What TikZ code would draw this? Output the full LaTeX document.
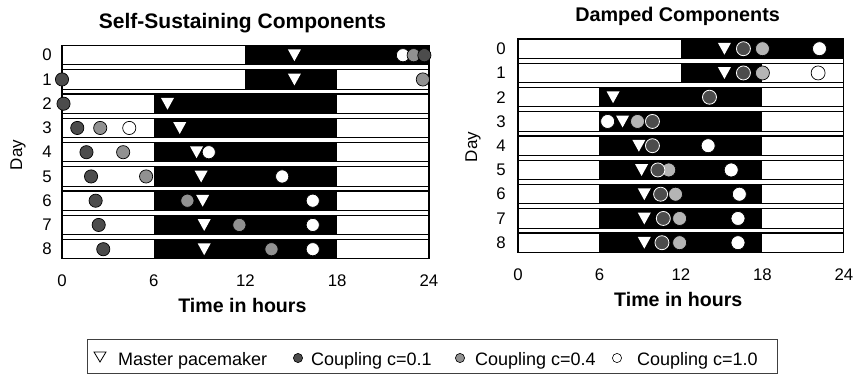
\documentclass[tikz,border=0pt]{standalone}
\usepackage{fontspec}
\setmainfont{Liberation Sans}
\usetikzlibrary{calc}

\tikzset{
  rowline/.style={line width=1.1pt, color=black},
  dkspot/.style={fill=black!70, draw=black, line width=0.7pt},
  dkspotw/.style={fill=black!70, draw=white, line width=0.8pt},
  gyspot/.style={fill=black!43, draw=black, line width=0.7pt},
  ltspot/.style={fill=black!29, draw=black, line width=0.7pt},
  whspot/.style={fill=white, draw=black, line width=0.7pt},
  ttl/.style={font=\fontsize{19.8}{22}\selectfont\bfseries, anchor=base, inner sep=0pt},
  axlbl/.style={font=\fontsize{19.6}{22}\selectfont\bfseries, anchor=base, inner sep=0pt},
  ticklbl/.style={font=\fontsize{16.8}{18}\selectfont, anchor=base, inner sep=0pt},
  daylbl/.style={font=\fontsize{16.8}{18}\selectfont, inner sep=0pt},
  daytitle/.style={font=\fontsize{17}{18}\selectfont, rotate=90, inner sep=0pt},
  legtxt/.style={font=\fontsize{18}{20}\selectfont, anchor=base west, inner sep=0pt}
}
\def\spotr{6.6pt}
\def\dayrow(#1:#2:#3){\fill[black] (#2,#1) rectangle (#3,#1+0.8);
  \draw[rowline] (0,#1) rectangle (24,#1+0.8);}
\def\spot[#1](#2,#3){\draw[#1] (#2,#3+0.4) circle (\spotr);}
\def\tri(#1,#2){\fill[white] (#1,#2+0.4) ++(-6.5pt,5.8pt) -- ++(13pt,0pt) -- ++(-6.5pt,-11.8pt) -- cycle;}

\begin{document}
\begin{tikzpicture}[x=1pt, y=-1pt]
			%%%%% START %%%%%
			\useasboundingbox (0,0) rectangle (853,375);
			
			% left panel
			\begin{scope}[shift={(62pt,-45.5pt)}, x=15.29pt, y=-24.25pt]
			\dayrow(0:12:24)
			\dayrow(1:12:18)
			\dayrow(2:6:18)
			\dayrow(3:6:18)
			\dayrow(4:6:18)
			\dayrow(5:6:18)
			\dayrow(6:6:18)
			\dayrow(7:6:18)
			\dayrow(8:6:18)
			\draw[rowline] (0,0) -- (0,8.8);
			\draw[rowline] (24,0) -- (24,8.8);
			
			\tri(15.2,0)
			\spot[whspot](22.3,0)
			\spot[gyspot](23.0,0)
			\spot[dkspot](23.7,0)
			
			\spot[dkspot](0,1)
			\tri(15.2,1)
			\spot[gyspot](23.6,1)
			
			\spot[dkspot](0.1,2)
			\tri(6.9,2)
			
			\spot[dkspot](1.0,3)
			\spot[gyspot](2.5,3)
			\spot[whspot](4.4,3)
			\tri(7.7,3)
			
			\spot[dkspot](1.6,4)
			\spot[gyspot](4.0,4)
			\tri(8.8,4)
			\spot[whspot](9.6,4)
			
			\spot[dkspot](1.9,5)
			\spot[gyspot](5.5,5)
			\tri(9.1,5)
			\spot[whspot](14.4,5)
			
			\spot[dkspot](2.2,6)
			\spot[gyspot](8.2,6)
			\tri(9.2,6)
			\spot[whspot](16.4,6)
			
			\spot[dkspot](2.4,7)
			\tri(9.3,7)
			\spot[gyspot](11.6,7)
			\spot[whspot](16.4,7)
			
			\spot[dkspot](2.7,8)
			\tri(9.3,8)
			\spot[gyspot](13.7,8)
			\spot[whspot](16.4,8)
			
			\node[daylbl, xshift=-15pt] (ld0) at (0,0.4) {0};
			\node[daylbl, xshift=-15pt] (ld1) at (0,1.4) {1};
			\node[daylbl, xshift=-15pt] (ld2) at (0,2.4) {2};
			\node[daylbl, xshift=-15pt] (ld3) at (0,3.4) {3};
			\node[daylbl, xshift=-15pt] (ld4) at (0,4.4) {4};
			\node[daylbl, xshift=-15pt] (ld5) at (0,5.4) {5};
			\node[daylbl, xshift=-15pt] (ld6) at (0,6.4) {6};
			\node[daylbl, xshift=-15pt] (ld7) at (0,7.4) {7};
			\node[daylbl, xshift=-15pt] (ld8) at (0,8.4) {8};
			\node[daytitle] (lday) at (-2.88,4.52) {Day};
			
			\node[ticklbl] (lt0) at (0,9.92) {0};
			\node[ticklbl] (lt6) at (6,9.92) {6};
			\node[ticklbl] (lt12) at (12,9.92) {12};
			\node[ticklbl] (lt18) at (18,9.92) {18};
			\node[ticklbl] (lt24) at (24,9.92) {24};
			\node[axlbl] (ltime) at (11.8,11.03) {Time in hours};
			\node[ttl, font=\fontsize{21}{23}\selectfont\bfseries] (ltitle) at (11.8,-0.71) {Self-Sustaining Components};
			\end{scope}
			
			% right panel
			\begin{scope}[shift={(518pt,-39pt)}, x=13.58pt, y=-24.25pt]
			\def\spotr{7pt}
			\dayrow(0:12:24)
			\dayrow(1:12:18)
			\dayrow(2:6:18)
			\dayrow(3:6:18)
			\dayrow(4:6:18)
			\dayrow(5:6:18)
			\dayrow(6:6:18)
			\dayrow(7:6:18)
			\dayrow(8:6:18)
			\draw[rowline] (0,0) -- (0,8.8);
			\draw[rowline] (24,0) -- (24,8.8);
			
			\tri(15.2,0)
			\spot[dkspotw](16.6,0)
			\spot[ltspot](18.0,0)
			\spot[whspot](22.2,0)
			
			\tri(15.2,1)
			\spot[dkspotw](16.6,1)
			\spot[ltspot](18.0,1)
			\spot[whspot](22.1,1)
			
			\tri(7.0,2)
			\spot[dkspotw](14.1,2)
			
			\spot[whspot](6.6,3)
			\tri(7.7,3)
			\spot[ltspot](8.8,3)
			\spot[dkspotw](9.9,3)
			
			\tri(8.9,4)
			\spot[dkspotw](9.9,4)
			\spot[whspot](14.0,4)
			
			\tri(9.1,5)
			\spot[ltspot](11.1,5)
			\spot[dkspotw](10.3,5)
			\spot[whspot](15.7,5)
			
			\tri(9.3,6)
			\spot[dkspotw](10.5,6)
			\spot[ltspot](11.6,6)
			\spot[whspot](16.3,6)
			
			\tri(9.3,7)
			\spot[dkspotw](10.7,7)
			\spot[ltspot](11.9,7)
			\spot[whspot](16.2,7)
			
			\tri(9.3,8)
			\spot[dkspotw](10.6,8)
			\spot[ltspot](11.9,8)
			\spot[whspot](16.2,8)
			
			\node[daylbl, xshift=-17pt] (rd0) at (0,0.4) {0};
			\node[daylbl, xshift=-17pt] (rd1) at (0,1.4) {1};
			\node[daylbl, xshift=-17pt] (rd2) at (0,2.4) {2};
			\node[daylbl, xshift=-17pt] (rd3) at (0,3.4) {3};
			\node[daylbl, xshift=-17pt] (rd4) at (0,4.4) {4};
			\node[daylbl, xshift=-17pt] (rd5) at (0,5.4) {5};
			\node[daylbl, xshift=-17pt] (rd6) at (0,6.4) {6};
			\node[daylbl, xshift=-17pt] (rd7) at (0,7.4) {7};
			\node[daylbl, xshift=-17pt] (rd8) at (0,8.4) {8};
			\node[daytitle] (rday) at (-3.31,4.45) {Day};
			
			\node[ticklbl] (rt0) at (0,9.97) {0};
			\node[ticklbl] (rt6) at (6,9.97) {6};
			\node[ticklbl] (rt12) at (12,9.97) {12};
			\node[ticklbl] (rt18) at (18,9.97) {18};
			\node[ticklbl] (rt24) at (24,9.97) {24};
			\node[axlbl] (rtime) at (11.8,11.04) {Time in hours};
			\node[ttl] (rtitle) at (11.75,-0.71) {Damped Components};
			\end{scope}
			
			% legend
			\draw[line width=0.8pt, color=black!75] (87,339) rectangle (777,373.5);
			\draw[line width=0.8pt] (94,352) -- (106,352) -- (100,362) -- cycle;
			\node[legtxt] (lgmaster) at (118,365.5) {Master pacemaker};
			\draw[fill=black!70, line width=0.6pt] (298,358) circle (4.6);
			\node[legtxt] (lgc1) at (311,365.5) {Coupling c=0.1};
			\draw[fill=black!43, line width=0.6pt] (460,358) circle (4.6);
			\node[legtxt] (lgc4) at (475,365.5) {Coupling c=0.4};
			\draw[fill=white, line width=0.6pt] (617,358) circle (4.6);
			\node[legtxt] (lgc10) at (637,365.5) {Coupling c=1.0};
			
			%%%%% END %%%%%
\end{tikzpicture}
\end{document}
